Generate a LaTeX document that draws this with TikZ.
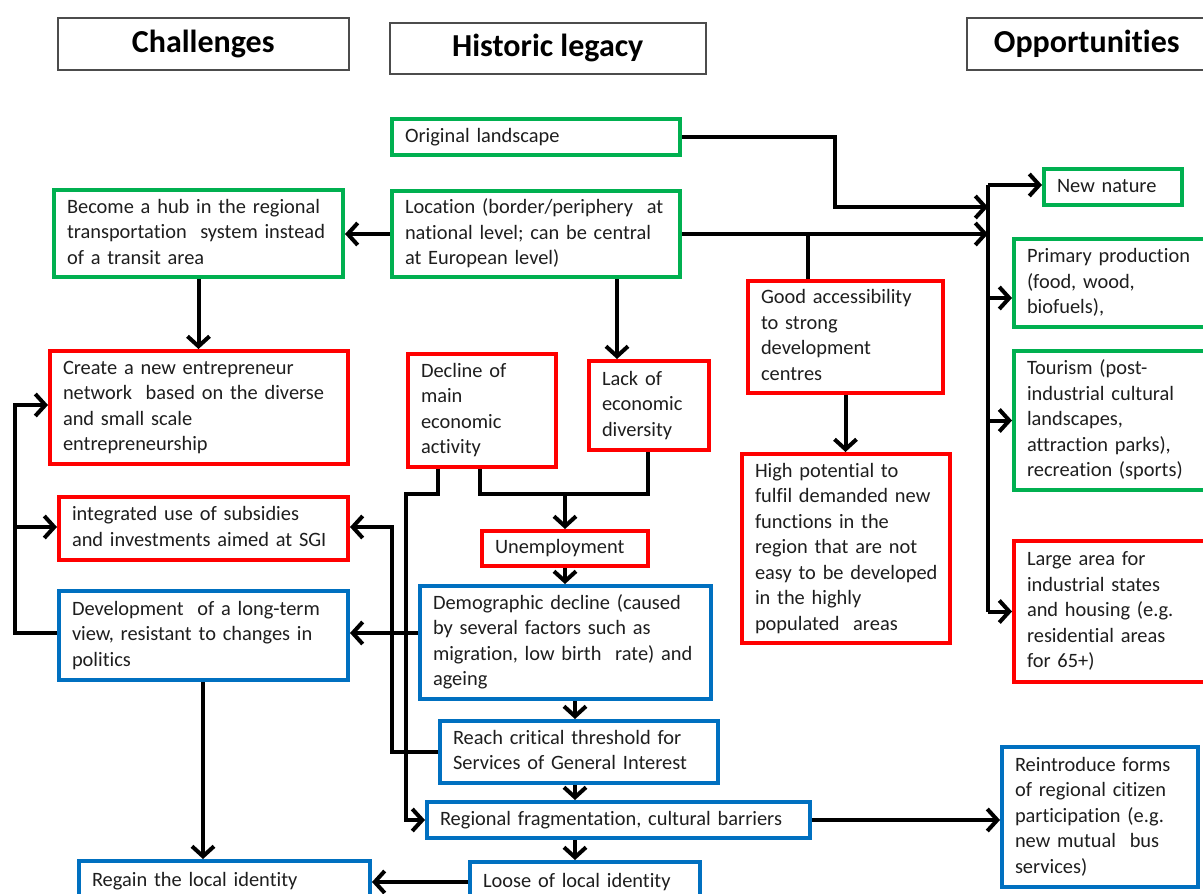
\documentclass[tikz,border=0pt]{standalone}
\usepackage{fontspec}
\setmainfont{Carlito}[Ligatures=NoCommon]
\usetikzlibrary{arrows.meta}
\definecolor{gr}{RGB}{0,176,80}
\definecolor{rd}{RGB}{255,0,0}
\definecolor{bl}{RGB}{0,112,192}
\definecolor{tx}{RGB}{30,30,30}
\tikzset{
  box/.style={draw, line width=4pt, fill=white, rectangle, anchor=north west,
    inner xsep=13pt, inner ysep=0pt, align=left, text=tx,
    font=\fontsize{20.4}{25.5}\selectfont},
  gbox/.style={box, draw=gr},
  rbox/.style={box, draw=rd},
  bbox/.style={box, draw=bl},
  hdr/.style={draw=black!70, line width=1.5pt, fill=white, rectangle, anchor=north west,
    inner sep=0pt, text=black, font=\fontsize{32}{36}\selectfont\bfseries},
  conn/.style={line width=4pt, draw=black},
  arr/.style={conn, -{Straight Barb[length=10pt,width=22pt]}},
}
\newcommand\mybox[7]{%
  \pgfmathsetmacro\bxx{#3+2}\pgfmathsetmacro\bxy{#4+2}%
  \pgfmathsetmacro\bxw{#5-4}\pgfmathsetmacro\bxh{#6-4}\pgfmathsetmacro\bxt{#5-30}%
  \node[#2, minimum width=\bxw pt, minimum height=\bxh pt, text width=\bxt pt] (#1) at (\bxx,\bxy)
    {\begin{tabular}{@{}l@{}}#7\end{tabular}};}
\newcommand\myhdr[6]{%
  \node[hdr, minimum width=#5pt, minimum height=#6pt] (#1) at (#3,#4) {#2};}
\begin{document}
\begin{tikzpicture}[x=1pt,y=-1pt]
\useasboundingbox (0,0) rectangle (1203,894);
\clip (0,0) rectangle (1203,894);
\fill[white] (0,0) rectangle (1203,894);

% headers
\myhdr{hc}{Challenges}{57}{17}{291}{52}
\myhdr{hh}{Historic legacy}{389}{22}{316}{51}
\myhdr{ho}{Opportunities}{966}{17}{240}{52}

% boxes
\mybox{orig}{gbox}{388}{115}{292}{40}{Original landscape}
\mybox{loc}{gbox}{388}{187}{292}{90}{Location (border/periphery\ \ at\\national level; can be central\\at European level)}
\mybox{hub}{gbox}{50}{186}{293}{91}{Become a hub in the regional\\transportation\ \ system instead\\of a transit area}
\mybox{create}{rbox}{46}{347}{302}{117}{Create a new entrepreneur\\network\ \ based on the diverse\\and small scale\\entrepreneurship}
\mybox{decline}{rbox}{404}{350}{152}{117}{Decline of\\main\\economic\\activity}
\mybox{lack}{rbox}{585}{357}{124}{93}{Lack of\\economic\\diversity}
\mybox{good}{rbox}{744}{277}{199}{116}{Good accessibility\\to strong\\development\\centres}
\mybox{high}{rbox}{738}{450}{212}{193}{High potential to\\fulfil demanded new\\functions in the\\region that are not\\easy to be developed\\in the highly\\populated\ \ areas}
\mybox{newn}{gbox}{1040}{165}{142}{40}{New nature}
\mybox{prim}{gbox}{1010}{235}{210}{92}{Primary production\\(food, wood,\\biofuels),}
\mybox{tour}{gbox}{1010}{347}{210}{143}{Tourism (post-\\industrial cultural\\landscapes,\\attraction parks),\\recreation (sports)}
\mybox{large}{rbox}{1010}{537}{210}{145}{Large area for\\industrial states\\and housing (e.g.\\residential areas\\for 65+)}
\mybox{integ}{rbox}{55}{493}{293}{67}{integrated use of subsidies\\and investments aimed at SGI}
\mybox{dev}{bbox}{55}{587}{293}{93}{Development\ \ of a long-term\\view, resistant to changes in\\politics}
\mybox{unemp}{rbox}{478}{527}{170}{39}{Unemployment}
\mybox{demo}{bbox}{416}{582}{295}{117}{Demographic decline (caused\\by several factors such as\\migration, low birth\ \ rate) and\\ageing}
\mybox{reach}{bbox}{436}{717}{282}{66}{Reach critical threshold for\\Services of General Interest}
\mybox{regfrag}{bbox}{423}{798}{387}{40}{Regional fragmentation, cultural barriers}
\mybox{loose}{bbox}{466}{858}{234}{44}{Loose of local identity}
\mybox{regain}{bbox}{75}{857}{295}{45}{Regain the local identity}
\mybox{reint}{bbox}{998}{743}{200}{144}{Reintroduce forms\\of regional citizen\\participation (e.g.\\new mutual\ \ bus\\services)}

% bus on the right
\coordinate (busT) at (988,185);
\coordinate (busB) at (busT |- large.west);
\draw[conn] (busT) -- (busB);
\draw[arr] (busT) -- (busT -| newn.west);
\draw[arr] (busT |- 0,298) -- (prim.west |- 0,298);
\draw[arr] (busT |- tour.west) -- (tour.west);
\draw[arr] (busB) -- (large.west);

% historic legacy to opportunities
\draw[arr] (orig.east) -- (orig.east -| 835,0) -- (835,207) -- (busT |- 0,207);
\draw[arr] (loc.east) -- (busT |- loc.east);
\draw[conn] (loc.east -| 808,0) -- (good.north -| 808,0);
\draw[arr] (good.south) -- (good.south |- high.north);

% historic legacy to challenges
\draw[arr] (loc.west) -- (loc.west -| hub.east);
\draw[arr] (hub.south) -- (hub.south |- create.north);
\draw[arr] (loc.south -| 617,0) -- (lack.north -| 617,0);

% decline / lack to unemployment
\draw[conn] (decline.south -| 480,0) -- (480,494) -- (648,494) -- (lack.south -| 648,0);
\draw[arr] (565,494) -- (unemp.north -| 565,0);
\draw[arr] (decline.south -| 438,0) -- (438,494) -- (406,494) -- (406,820) -- (regfrag.west |- 0,820);

% central chain
\draw[arr] (unemp.south -| 565,0) -- (demo.north -| 565,0);
\draw[arr] (demo.south -| 575,0) -- (reach.north -| 575,0);
\draw[arr] (reach.south -| 575,0) -- (regfrag.north -| 575,0);
\draw[arr] (regfrag.south -| 575,0) -- (loose.north -| 575,0);
\draw[arr] (regfrag.east) -- (regfrag.east -| reint.west);
\draw[arr] (loose.west) -- (loose.west -| regain.east);

% to the challenges column
\draw[arr] (dev.south -| 203,0) -- (regain.north -| 203,0);
\draw[arr] (demo.west |- 0,633) -- (dev.east |- 0,633);
\draw[arr] (reach.west) -- (reach.west -| 392,0) -- (392,527) -- (integ.east |- 0,527);
\draw[arr] (dev.west |- 0,633) -- (15,633) -- (15,405) -- (create.west |- 0,405);
\draw[arr] (15,527) -- (integ.west |- 0,527);
\end{tikzpicture}
\end{document}
